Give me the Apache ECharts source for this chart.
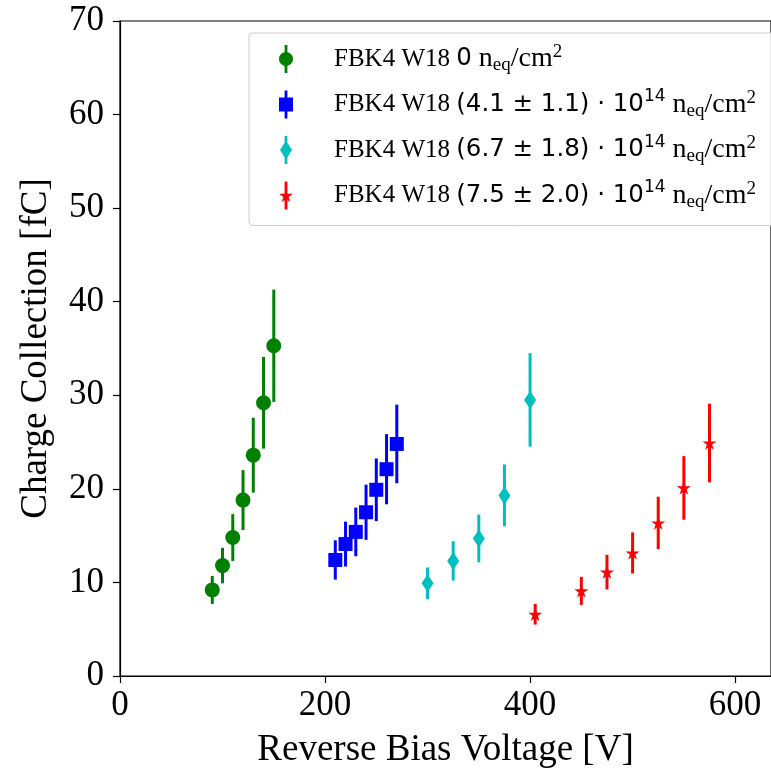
<!DOCTYPE html>
<html><head><meta charset="utf-8">
<script src="https://cdn.jsdelivr.net/npm/echarts@6/dist/echarts.min.js"></script>
<style>html,body{margin:0;padding:0;background:#fff}#c{width:771px;height:774px}</style>
</head><body><div id="c"></div>
<script>
// ---- data ----
const seriesNames = ['FBK4 W18 0 neq/cm2', 'FBK4 W18 (4.1 ± 1.1)·10^14 neq/cm2', 'FBK4 W18 (6.7 ± 1.8)·10^14 neq/cm2', 'FBK4 W18 (7.5 ± 2.0)·10^14 neq/cm2'];
const fluenceText = ['0', '(4.1 ± 1.1) · 10', '(6.7 ± 1.8) · 10', '(7.5 ± 2.0) · 10'];
const fluenceExp = ['', '14', '14', '14'];
const colors = ['#008000', '#0000ff', '#00bfbf', '#ff0000'];

const v0 = [90, 100, 110, 120, 130, 140, 150];
const q0 = [9.2, 11.8, 14.8, 18.8, 23.6, 29.2, 35.3];
const e0 = [1.5, 1.9, 2.5, 3.2, 4.0, 4.9, 6.0];

const v1 = [210, 220, 230, 240, 250, 260, 270];
const q1 = [12.4, 14.1, 15.4, 17.5, 19.9, 22.1, 24.8];
const e1 = [2.1, 2.4, 2.6, 2.95, 3.35, 3.75, 4.2];

const v2 = [300, 325, 350, 375, 400];
const q2 = [9.9, 12.3, 14.7, 19.3, 29.5];
const e2 = [1.7, 2.1, 2.55, 3.3, 5.0];

const v3 = [405, 450, 475, 500, 525, 550, 575];
const q3 = [6.6, 9.1, 11.1, 13.15, 16.35, 20.1, 24.9];
const e3 = [1.1, 1.5, 1.85, 2.2, 2.8, 3.4, 4.2];

const xTicks = [0, 200, 400, 600];
const yTicks = [0, 10, 20, 30, 40, 50, 60, 70];

// ---- shapes ----
function poly(pts) {
  return 'M' + pts.map(p => p[0].toFixed(2) + ',' + p[1].toFixed(2)).join(' L') + ' Z';
}
function starPts(cx, cy, R) {
  const pts = [];
  for (let k = 0; k < 10; k++) {
    const a = (-90 + k * 36) * Math.PI / 180;
    const r = k % 2 === 0 ? R : R * 0.381966;
    pts.push([cx + r * Math.cos(a), cy + r * Math.sin(a)]);
  }
  return pts;
}
function circlePts(cx, cy, R) {
  const pts = [];
  for (let k = 0; k < 36; k++) {
    const a = k * 10 * Math.PI / 180;
    pts.push([cx + R * Math.cos(a), cy + R * Math.sin(a)]);
  }
  return pts;
}
const barRect = poly([[5.6, 0], [8.4, 0], [8.4, 28], [5.6, 28]]);
const legendIcons = [
  'path://' + barRect + ' ' + poly(circlePts(7, 14, 7)),
  'path://' + barRect + ' ' + poly([[0, 7], [14, 7], [14, 21], [0, 21]]),
  'path://' + barRect + ' ' + poly([[7, 4.5], [13, 14], [7, 23.5], [1, 14]]),
  'path://' + barRect + ' ' + poly(starPts(7, 14.6, 7.3))
];
const starSymbol = 'path://' + poly(starPts(0, 0, 10));
const markerSymbols = ['circle', 'rect', 'diamond', starSymbol];
const markerSizes = [15, 14, [12, 18], 14];

const allV = [v0, v1, v2, v3], allQ = [q0, q1, q2, q3], allE = [e0, e1, e2, e3];

const series = [];
for (let i = 0; i < 4; i++) {
  const errData = allV[i].map((v, j) => [v, allQ[i][j], allE[i][j]]);
  series.push({
    type: 'custom', name: 'err' + i, z: 2 + i * 2,
    data: errData, encode: { x: 0, y: 1 },
    renderItem: (params, api) => {
      const x = api.value(0), y = api.value(1), e = api.value(2);
      const p1 = api.coord([x, y - e]), p2 = api.coord([x, y + e]);
      return { type: 'line', shape: { x1: p1[0], y1: p1[1], x2: p2[0], y2: p2[1] },
        style: { stroke: colors[i], lineWidth: 3 } };
    },
    silent: true
  });
  series.push({
    type: 'scatter', name: seriesNames[i], z: 3 + i * 2,
    data: allV[i].map((v, j) => [v, allQ[i][j]]),
    symbol: markerSymbols[i], symbolSize: markerSizes[i], symbolKeepAspect: true,
    itemStyle: { color: colors[i], opacity: 1 }
  });
}

function legendLabel(name) {
  const i = seriesNames.indexOf(name);
  let s = '{g| }{t|FBK4 W18 }{m|' + fluenceText[i] + '}';
  if (fluenceExp[i]) s += '{s|' + fluenceExp[i] + '}';
  s += '{n| n}{b|eq}{n|/cm}{p|2}';
  return s;
}

const serif = 'Liberation Serif';
const chart = echarts.init(document.getElementById('c'), null, { renderer: 'canvas' });
chart.setOption({
  backgroundColor: '#ffffff',
  animation: false,
  grid: { left: 120, right: -1, top: 21, bottom: 96, show: true, borderColor: '#000', borderWidth: 1.2, containLabel: false },
  xAxis: {
    type: 'value', min: xTicks[0], max: 635, interval: xTicks[1] - xTicks[0],
    name: 'Reverse Bias Voltage [V]', nameLocation: 'middle', nameGap: 56,
    nameTextStyle: { fontFamily: serif, fontSize: 37, color: '#000' },
    axisLine: { lineStyle: { color: '#000', width: 1.2 } },
    axisTick: { show: true, inside: false, length: 7, lineStyle: { color: '#000', width: 1.2 } },
    axisLabel: { fontFamily: serif, fontSize: 35, color: '#000', margin: 12, showMaxLabel: false },
    splitLine: { show: false }
  },
  yAxis: {
    type: 'value', min: yTicks[0], max: yTicks[yTicks.length - 1], interval: yTicks[1] - yTicks[0],
    name: 'Charge Collection [fC]', nameLocation: 'middle', nameGap: 65,
    nameTextStyle: { fontFamily: serif, fontSize: 37, color: '#000' },
    axisLine: { lineStyle: { color: '#000', width: 1.2 } },
    axisTick: { show: true, inside: false, length: 7, lineStyle: { color: '#000', width: 1.2 } },
    axisLabel: { fontFamily: serif, fontSize: 35, color: '#000', margin: 16 },
    splitLine: { show: false }
  },
  legend: {
    orient: 'vertical', left: 249, top: 33,
    padding: [10, 30, 14, 30],
    itemWidth: 36, itemHeight: 28, itemGap: 13.5,
    backgroundColor: 'rgba(255,255,255,0.85)', borderColor: '#cccccc', borderWidth: 1, borderRadius: 4,
    selectedMode: false, symbolKeepAspect: true,
    data: seriesNames.map((n, i) => ({ name: n, icon: legendIcons[i], itemStyle: { color: colors[i] } })),
    formatter: legendLabel,
    textStyle: {
      color: '#000', fontFamily: serif, fontSize: 25, lineHeight: 32,
      rich: {
        g: { width: 25, fontSize: 10, lineHeight: 32 },
        t: { fontFamily: serif, fontSize: 25, lineHeight: 32, color: '#000' },
        m: { fontFamily: 'DejaVu Sans', fontSize: 24.5, lineHeight: 32, color: '#000' },
        n: { fontFamily: serif, fontSize: 28, lineHeight: 32, color: '#000' },
        s: { fontFamily: 'DejaVu Sans', fontSize: 17, lineHeight: 14, verticalAlign: 'top', color: '#000' },
        p: { fontFamily: serif, fontSize: 19, lineHeight: 14, verticalAlign: 'top', color: '#000' },
        b: { fontFamily: serif, fontSize: 19, lineHeight: 20, verticalAlign: 'bottom', color: '#000' }
      }
    }
  },
  series: series
});
</script></body></html>
